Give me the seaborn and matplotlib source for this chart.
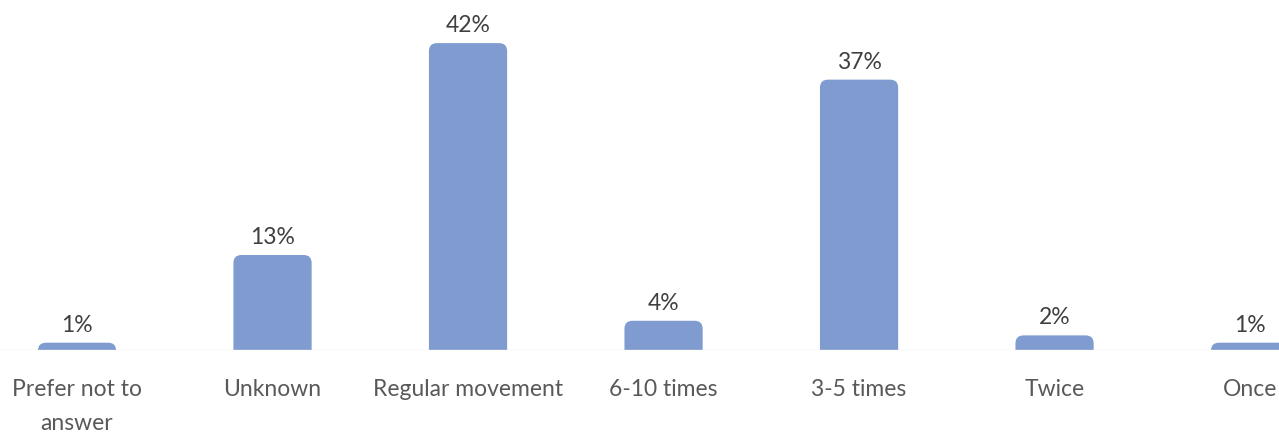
import matplotlib
matplotlib.use("Agg")
import matplotlib.pyplot as plt
from matplotlib.patches import FancyBboxPatch
import seaborn as sns
import pandas as pd

categories = ["Prefer not to\nanswer", "Unknown", "Regular movement", "6-10 times",
              "3-5 times", "Twice", "Once"]
shares = [1, 13, 42, 4, 37, 2, 1]
value_labels = ["1%", "13%", "42%", "4%", "37%", "2%", "1%"]

BAR_COLOR = "#7F9BD0"
TEXT_COLOR = "#404040"
TICK_COLOR = "#595959"

sns.set_theme(style="white")
plt.rcParams["font.family"] = ["Lato", "DejaVu Sans"]

df = pd.DataFrame({"category": categories, "share": shares})

fig = plt.figure(figsize=(12.79, 4.32), dpi=100)
ax = fig.add_axes([0, 82 / 432, 1, 350 / 432])

sns.barplot(data=df, x="category", y="share", color=BAR_COLOR, width=0.4,
            saturation=1, ax=ax)

ax.set_xlim(-0.394, 6.148)
ax.set_ylim(0, 47.9)

# replace the flat bars with top-rounded ones
px_x = 1279 / (6.148 + 0.394)       # pixels per x unit
px_y = 350 / 47.9                   # pixels per y unit
radius_px = 8
aspect = (radius_px / px_y) / (radius_px / px_x)
for patch in list(ax.patches):
    x0, w, h = patch.get_x(), patch.get_width(), patch.get_height()
    patch.remove()
    ext = 3.0
    box = FancyBboxPatch((x0, -ext), w, h + ext,
                         boxstyle=f"round,pad=0,rounding_size={radius_px / px_x}",
                         mutation_aspect=aspect, facecolor=BAR_COLOR,
                         edgecolor="none", zorder=2)
    ax.add_patch(box)

for i, (v, lab) in enumerate(zip(shares, value_labels)):
    ax.annotate(lab, (i, v), xytext=(0, 5), textcoords="offset points",
                ha="center", va="bottom", fontsize=16.5, color=TEXT_COLOR)

ax.axhline(0, color="#E6E6E6", lw=1, zorder=3)

for s in ax.spines.values():
    s.set_visible(False)
ax.set_xlabel("")
ax.set_ylabel("")
ax.set_yticks([])
ax.tick_params(axis="x", length=0, pad=21, labelsize=16.5, labelcolor=TICK_COLOR)
for t in ax.get_xticklabels():
    t.set_linespacing(1.75)
    t.set_verticalalignment("top")

fig.savefig("out.png", dpi=100)
